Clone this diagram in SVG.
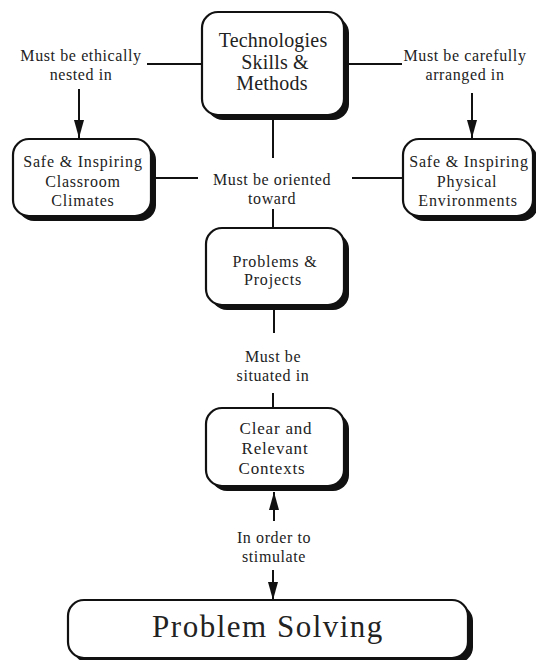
<svg xmlns="http://www.w3.org/2000/svg" width="536" height="660" viewBox="0 0 536 660">
  <style>
    .shadow { fill: #111; }
    .box { fill: #fff; stroke: #111; stroke-width: 2.2; }
    .link { fill: none; stroke: #111; stroke-width: 2; }
    text { font-family: "Liberation Serif", "Times New Roman", serif; fill: #222; text-anchor: middle; }
    .lbl { font-size: 16px; letter-spacing: 0.6px; }
    .node { font-size: 16px; letter-spacing: 0.8px; }
    .big { font-size: 20px; letter-spacing: 0.2px; }
  </style>
  <defs>
    <marker id="arrow" viewBox="0 0 18 10" refX="18" refY="5" markerWidth="18" markerHeight="10" markerUnits="userSpaceOnUse" orient="auto">
      <path d="M0,0 L18,5 L0,10 Z" fill="#111"/>
    </marker>
  </defs>

  <!-- connectors -->
  <g id="connectors">
    <line class="link" x1="147" y1="64" x2="202" y2="64"/>
    <line class="link" x1="79" y1="89" x2="79" y2="138" marker-end="url(#arrow)"/>
    <line class="link" x1="344" y1="64" x2="402" y2="64"/>
    <line class="link" x1="472" y1="93" x2="472" y2="138" marker-end="url(#arrow)"/>
    <line class="link" x1="273" y1="119" x2="273" y2="158"/>
    <line class="link" x1="156" y1="178" x2="198" y2="178"/>
    <line class="link" x1="352" y1="178" x2="403" y2="178"/>
    <line class="link" x1="273" y1="209" x2="273" y2="228"/>
    <line class="link" x1="274" y1="310" x2="274" y2="333"/>
    <line class="link" x1="273" y1="393" x2="273" y2="408"/>
    <line class="link" x1="274" y1="521" x2="274" y2="492" marker-end="url(#arrow)"/>
    <line class="link" x1="273" y1="570" x2="273" y2="600" marker-end="url(#arrow)"/>
  </g>

  <!-- edge labels -->
  <g id="labels">
    <text class="lbl" x="81" y="61">Must be ethically</text>
    <text class="lbl" x="81" y="80">nested in</text>
    <text class="lbl" x="465" y="61">Must be carefully</text>
    <text class="lbl" x="465" y="80">arranged in</text>
    <text class="lbl" x="272" y="185">Must be oriented</text>
    <text class="lbl" x="272" y="204">toward</text>
    <text class="lbl" x="273" y="362">Must be</text>
    <text class="lbl" x="273" y="381">situated in</text>
    <text class="lbl" x="274" y="543">In order to</text>
    <text class="lbl" x="274" y="562">stimulate</text>
  </g>

  <g id="technologies">
    <rect class="shadow" x="207" y="17" width="142" height="103" rx="16"/>
    <rect class="box" x="202" y="12" width="142" height="103" rx="16"/>
    <text class="big" x="273" y="47">Technologies</text>
    <text class="big" x="275" y="69">Skills &amp;</text>
    <text class="big" x="272" y="90">Methods</text>
  </g>

  <g id="classroom-climates">
    <rect class="shadow" x="18" y="144" width="138" height="77" rx="16"/>
    <rect class="box" x="13" y="139" width="138" height="77" rx="16"/>
    <text class="node" x="83" y="167">Safe &amp; Inspiring</text>
    <text class="node" x="83" y="187">Classroom</text>
    <text class="node" x="83" y="206">Climates</text>
  </g>

  <g id="physical-environments">
    <rect class="shadow" x="408" y="144" width="130" height="77" rx="16"/>
    <rect class="box" x="403" y="139" width="130" height="77" rx="16"/>
    <text class="node" x="469" y="167">Safe &amp; Inspiring</text>
    <text class="node" x="467" y="187">Physical</text>
    <text class="node" x="468" y="206">Environments</text>
  </g>

  <g id="problems-projects">
    <rect class="shadow" x="211" y="233" width="138" height="77" rx="16"/>
    <rect class="box" x="206" y="228" width="138" height="77" rx="16"/>
    <text class="node" x="275" y="267">Problems &amp;</text>
    <text class="node" x="273" y="285">Projects</text>
  </g>

  <g id="clear-contexts">
    <rect class="shadow" x="211" y="413" width="138" height="78" rx="16"/>
    <rect class="box" x="206" y="408" width="138" height="78" rx="16"/>
    <text class="node" x="276" y="434" style="font-size:17px">Clear and</text>
    <text class="node" x="275" y="454" style="font-size:17px">Relevant</text>
    <text class="node" x="272" y="474" style="font-size:17px">Contexts</text>
  </g>

  <g id="problem-solving">
    <rect class="shadow" x="73" y="605" width="400" height="58" rx="16"/>
    <rect class="box" x="68" y="600" width="400" height="58" rx="16"/>
    <text x="268" y="637" style="font-size:31px; letter-spacing:1.5px">Problem Solving</text>
  </g>
</svg>
